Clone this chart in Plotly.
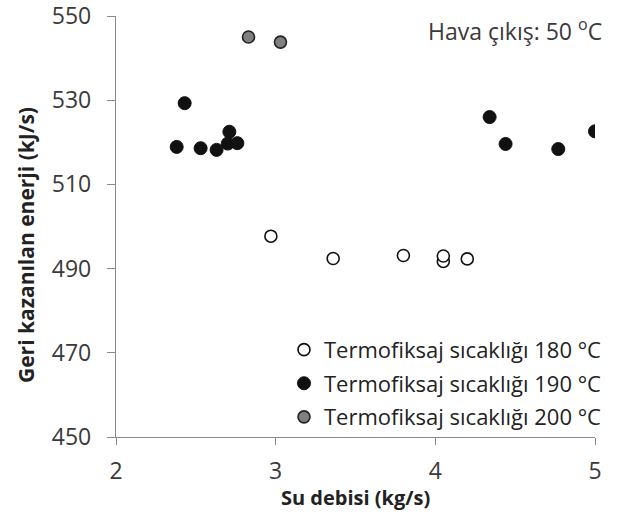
import plotly.graph_objects as go

# Data
x180 = [2.97, 3.36, 3.80, 4.05, 4.05, 4.20]
y180 = [497.7, 492.4, 493.1, 491.7, 493.0, 492.3]

x190 = [2.38, 2.43, 2.53, 2.63, 2.71, 2.70, 2.76, 4.34, 4.44, 4.77, 5.00]
y190 = [518.9, 529.3, 518.6, 518.2, 522.5, 519.7, 519.8, 526.0, 519.6, 518.4, 522.6]

x200 = [2.83, 3.03]
y200 = [545.0, 543.8]

names = ["Termofiksaj sıcaklığı 180 °C",
         "Termofiksaj sıcaklığı 190 °C",
         "Termofiksaj sıcaklığı 200 °C"]

xticks = [2, 3, 4, 5]
yticks = [450, 470, 490, 510, 530, 550]

FONT = "Open Sans"
TXT = "#3a3a3a"

fig = go.Figure()
fig.add_trace(go.Scatter(x=x180, y=y180, mode="markers", name=names[0], legendgroup="a",
                         marker=dict(size=12, color="white", line=dict(color="#111", width=1.6))))
fig.add_trace(go.Scatter(x=x190, y=y190, mode="markers", name=names[1], legendgroup="b",
                         marker=dict(size=13, color="#111", line=dict(color="#111", width=1))))
fig.add_trace(go.Scatter(x=x200, y=y200, mode="markers", name=names[2], legendgroup="c",
                         marker=dict(size=12, color="#808080", line=dict(color="#222", width=1.6))))

fig.add_annotation(x=(604 - 116) / 479, y=(437 - 30) / 421, xref="paper", yref="paper",
                   xanchor="right", yanchor="middle",
                   text="Hava çıkış: 50 <sup>o</sup>C", showarrow=False,
                   font=dict(family=FONT, size=23, color=TXT))

# axis titles
fig.add_annotation(x=0.5, y=-(497 - 437) / 421, xref="paper", yref="paper",
                   xanchor="center", yanchor="middle", showarrow=False,
                   text="<b>Su debisi (kg/s)</b>", font=dict(family=FONT, size=20, color="#222"))
fig.add_annotation(x=-(116 - 26) / 479, y=(437 - 245) / 421, xref="paper", yref="paper",
                   xanchor="center", yanchor="middle", showarrow=False, textangle=-90,
                   text="<b>Geri kazanılan enerji (kJ/s)</b>", font=dict(family=FONT, size=21, color="#222"))

fig.update_layout(
    width=625, height=515,
    margin=dict(l=116, r=30, t=16, b=78),
    paper_bgcolor="white", plot_bgcolor="white",
    font=dict(family=FONT, color=TXT),
    showlegend=True,
    legend=dict(x=(607 - 116) / 479, y=-0.002, xanchor="right", yanchor="bottom",
                bgcolor="rgba(0,0,0,0)",
                font=dict(family=FONT, size=22, color="#222"),
                tracegroupgap=2, itemsizing="trace"),
    xaxis=dict(range=[2, 5], tickvals=xticks, showgrid=False, zeroline=False,
               showline=True, linecolor="#8a8a8a", linewidth=1.3,
               ticks="outside", ticklen=7, tickcolor="#8a8a8a",
               ticklabelstandoff=6, automargin=False, ticklabeloverflow="allow",
               tickfont=dict(family=FONT, size=23, color=TXT)),
    yaxis=dict(range=[450, 550], tickvals=yticks, showgrid=False, zeroline=False,
               showline=True, linecolor="#8a8a8a", linewidth=1.3,
               ticks="outside", ticklen=8, tickcolor="#8a8a8a",
               ticklabelstandoff=11, automargin=False, ticklabeloverflow="allow",
               tickfont=dict(family=FONT, size=23, color=TXT)),
)

fig.write_html("out.html")
